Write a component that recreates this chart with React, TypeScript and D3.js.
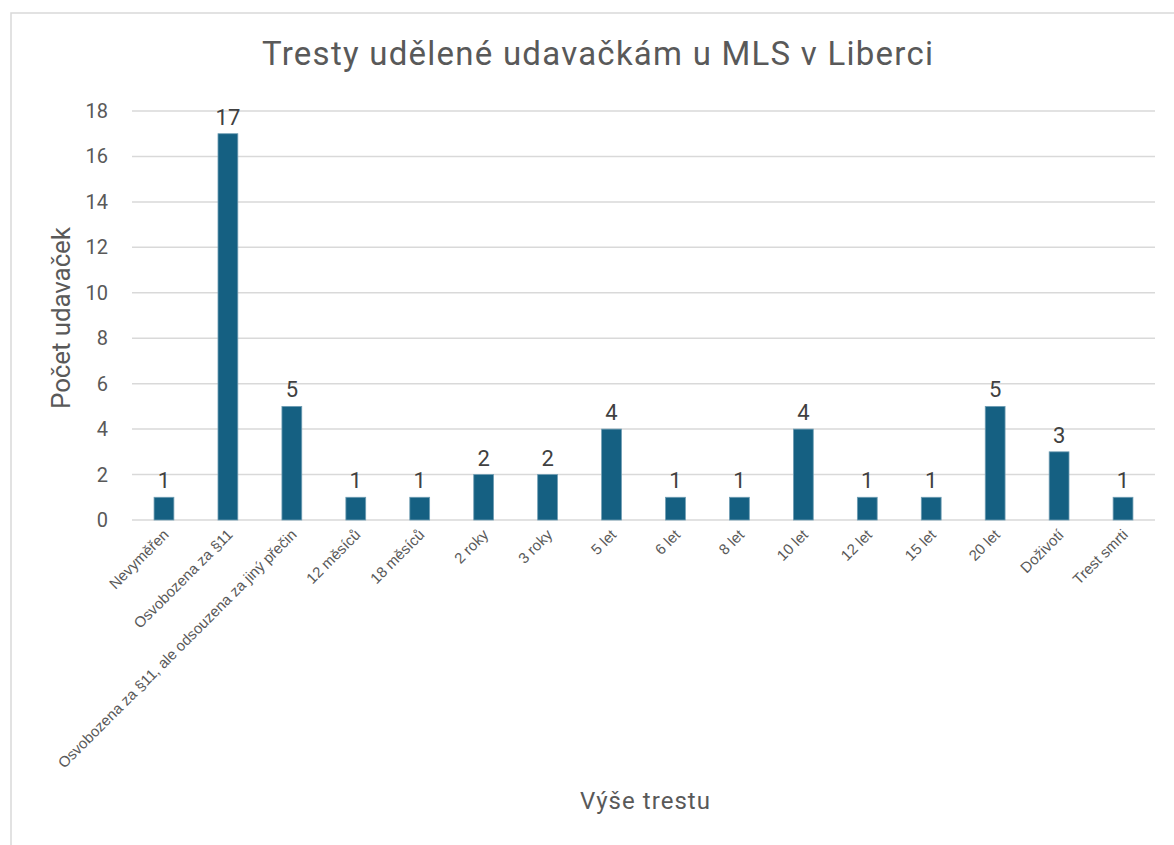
import React from 'react'
import { scaleBand, scaleLinear } from 'd3'

const categories = [
  'Nevyměřen',
  'Osvobozena za §11',
  'Osvobozena za §11, ale odsouzena za jiný přečin',
  '12 měsíců',
  '18 měsíců',
  '2 roky',
  '3 roky',
  '5 let',
  '6 let',
  '8 let',
  '10 let',
  '12 let',
  '15 let',
  '20 let',
  'Doživotí',
  'Trest smrti',
]
const counts = [1, 17, 5, 1, 1, 2, 2, 4, 1, 1, 4, 1, 1, 5, 3, 1]
const yTicks = [0, 2, 4, 6, 8, 10, 12, 14, 16, 18]

const title = 'Tresty udělené udavačkám u MLS v Liberci'
const xTitle = 'Výše trestu'
const yTitle = 'Počet udavaček'

export default function App() {
  const width = 1174,
    height = 845
  const left = 132,
    right = 1155,
    top = 111,
    bottom = 520
  const font = 'Roboto, "Noto Sans", sans-serif'
  const labelFont = '"Liberation Sans", Arial, sans-serif'
  const textColor = '#595959'
  const barColor = '#156082'
  const gridColor = '#d9d9d9'

  const x = scaleBand<string>().domain(categories).range([left, right]).paddingInner(0.69).paddingOuter(0.345)
  const y = scaleLinear().domain([0, 18]).range([bottom, top])

  return (
    <svg width={width} height={height} style={{ position: 'absolute', left: 0, top: 0, fontFamily: font }}>
      <rect x={0} y={0} width={width} height={height} fill='white' />
      <rect x={11} y={13} width={width} height={height} fill='white' stroke={gridColor} strokeWidth={1.5} />

      <text x={262} y={65} fontSize={33} fill={textColor} textLength={671} lengthAdjust='spacing'>{title}</text>

      {yTicks.map(t => (
        <g key={t}>
          <line x1={left} x2={right} y1={y(t)} y2={y(t)} stroke={gridColor} strokeWidth={1.5} />
          <text x={108} y={y(t)} dy='0.35em' textAnchor='end' fontSize={20} fill={textColor}>{t}</text>
        </g>
      ))}

      {categories.map((c, i) => {
        const bx = x(c) as number
        const cx = bx + x.bandwidth() / 2
        return (
          <g key={c}>
            <rect x={bx} y={y(counts[i])} width={x.bandwidth()} height={y(0) - y(counts[i])} fill={barColor} stroke='#6f9db3' strokeWidth={0.8} />
            <text x={cx} y={y(counts[i]) - 9} textAnchor='middle' fontSize={22} fill='#404040'>{counts[i]}</text>
            <text
              transform={`translate(${cx + 2},${bottom + 12}) rotate(-45)`}
              textAnchor='end'
              dy='0.35em'
              fontSize={15}
              fontFamily={labelFont}
              fill={textColor}
            >
              {c}
            </text>
          </g>
        )
      })}

      <text transform={`translate(70,318) rotate(-90)`} textAnchor='middle' fontSize={26} fill={textColor} textLength={182} lengthAdjust='spacing'>{yTitle}</text>
      <text x={645} y={809} textAnchor='middle' fontSize={24} fill={textColor} textLength={130} lengthAdjust='spacing'>{xTitle}</text>
    </svg>
  )
}
